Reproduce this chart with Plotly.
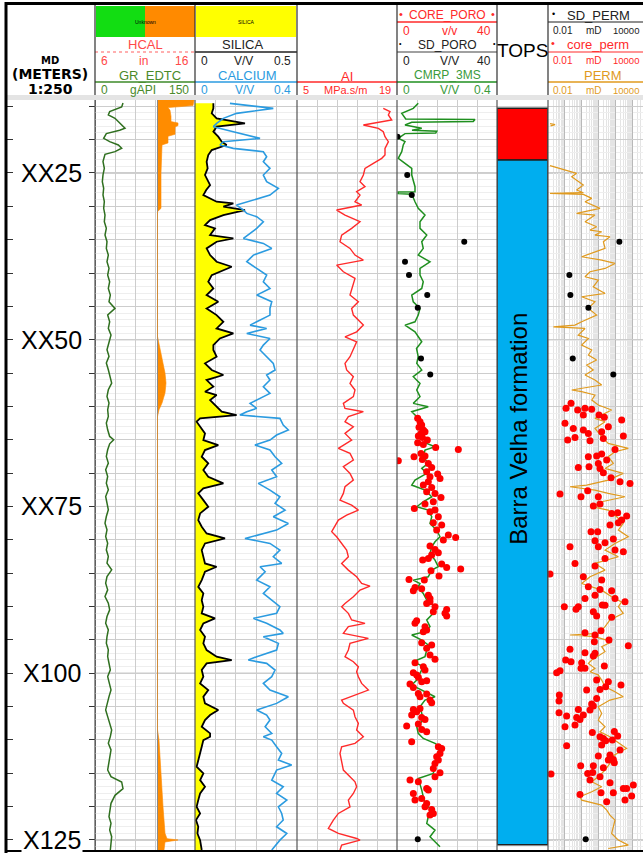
import plotly.graph_objects as go

W, H = 643, 855

# ------------------------------------------------------------------ data
# (depth m, value) pairs read from the log
GR = [(14.5,42),(15.1,40),(15.8,22),(16.3,20),(16.8,30),(17.8,40),(18.3,45),(18.6,37),(19.1,17),(19.8,13),
      (20.3,22),(20.8,35),(21.3,40),(21.8,30),(22.2,15),(23.3,12),(24.3,14),(25.3,12),(26.3,11),(27.3,13),
      (28.3,12),(29.3,14),(30.3,13),(31.3,15),(32.3,14),(33.3,17),(34.3,15),(35.3,18),(36.3,17),(37.3,20),
      (38.3,18),(39.3,21),(40.3,19),(41.3,22),(42.3,20),(43.3,23),(44.3,21),(45.3,30),(46.3,19),(47.3,22),
      (48.3,20),(49.3,24),(50.3,21),(51.5,18),(52.5,21),(53.5,17),(54.5,20),(55.5,22),(56.5,25),(57.5,20),
      (58.5,18),(59.5,21),(60.5,19),(61.5,20),(62.5,17),(63.5,19),(64.5,22),(65.0,28),(65.6,22),(66.5,19),
      (67.5,17),(68.5,20),(69.5,16),(70.5,19),(71.5,17),(72.5,20),(73.5,16),(74.5,18),(75.5,20),(76.5,17),
      (77.5,15),(78.5,18),(79.5,16),(80.5,19),(81.5,17),(82.5,20),(83.5,18),(84.5,25),(85.5,18),(86.5,16),
      (87.5,19),(88.5,15),(89.5,20),(90.5,22),(91.5,18),(92.5,16),(93.5,20),(94.5,18),(95.5,17),(96.5,20),
      (97.5,19),(98.5,21),(99.5,23),(100.5,19),(101.5,22),(102.5,24),(103.5,21),(104.5,18),(105.5,16),
      (106.5,19),(107.5,22),(108.5,25),(109.5,23),(110.5,20),(111.5,24),(112.5,22),(113.5,20),(114.5,19),
      (115.5,24),(116.3,40),(117.3,42),(118.3,30),(119.5,24),(120.5,22),(121.5,21),(122.5,24),(123.5,22),
      (124.5,25),(125.5,24),(126.5,23)]

HCAL = [(14.06,15.9),(14.9,15.8),(15.2,13.3),(15.6,13.5),(16.5,13.6),(17.3,13.6),(17.5,14.3),(17.9,14.3),
        (18.1,14.0),(19.2,14.0),(19.5,13.3),(20.5,13.3),(20.8,12.7),(25.0,12.6),(30.3,12.6),(30.8,12.25),
        (49.5,12.25),(51.5,12.5),(53.5,12.8),(55.0,13.0),(56.5,13.1),(58.0,13.0),(59.5,12.7),(60.5,12.4),
        (61.5,12.25),(108.5,12.25),(110.0,12.4),(113.0,12.5),(116.0,12.6),(118.0,12.7),(120.0,12.8),
        (122.0,12.9),(124.0,13.0),(124.8,13.2),(125.0,14.3),(125.3,13.0),(126.5,12.9)]
BIT_SIZE = 12.25

SILICA = [(14.56,0.090),(15.31,0.090),(16.06,0.082),(16.81,0.106),(17.56,0.245),(18.06,0.106),(18.81,0.090),
          (19.56,0.114),(20.31,0.131),(20.81,0.155),(21.56,0.082),(22.31,0.065),(23.31,0.057),(24.31,0.062),
          (25.31,0.049),(26.06,0.060),(26.81,0.074),(27.56,0.055),(28.31,0.041),(29.31,0.106),(29.56,0.188),
          (30.06,0.139),(30.56,0.245),(31.31,0.139),(32.06,0.074),(32.81,0.049),(33.31,0.098),(34.31,0.074),
          (34.81,0.188),(35.31,0.106),(36.31,0.057),(37.31,0.074),(38.31,0.106),(39.06,0.180),(40.31,0.082),
          (41.31,0.065),(42.31,0.090),(43.31,0.057),(44.31,0.114),(45.31,0.057),(46.31,0.106),(47.31,0.139),
          (48.31,0.106),(49.06,0.188),(49.81,0.122),(50.81,0.090),(51.54,0.090),(52.54,0.106),(53.54,0.049),
          (54.54,0.082),(55.29,0.139),(56.04,0.057),(57.04,0.090),(57.79,0.049),(58.29,0.106),(59.04,0.074),
          (59.79,0.098),(60.79,0.131),(61.29,0.204),(61.79,0.025),(62.29,0.008),(63.04,0.025),(64.04,0.049),
          (65.04,0.041),(65.79,0.114),(66.54,0.049),(67.54,0.033),(68.54,0.065),(69.54,0.041),(70.54,0.065),
          (71.54,0.139),(72.29,0.041),(73.04,0.016),(74.04,0.041),(75.04,0.065),(76.04,0.025),(77.04,0.016),
          (78.04,0.033),(79.04,0.057),(79.79,0.147),(80.54,0.049),(81.54,0.033),(82.54,0.041),(83.54,0.049),
          (84.04,0.106),(84.79,0.049),(86.04,0.033),(87.04,0.016),(88.04,0.041),(89.04,0.033),(90.02,0.041),
          (91.02,0.033),(91.77,0.098),(92.52,0.041),(93.52,0.025),(94.52,0.049),(95.52,0.041),(96.52,0.057),
          (97.52,0.106),(98.02,0.180),(98.52,0.057),(99.52,0.033),(100.52,0.041),(101.52,0.025),(102.52,0.065),
          (103.52,0.041),(104.52,0.049),(105.52,0.114),(106.27,0.074),(107.02,0.049),(108.02,0.033),
          (109.02,0.074),(109.52,0.074),(110.02,0.041),(111.02,0.033),(112.02,0.025),(113.02,0.016),
          (114.02,0.008),(115.02,0.041),(116.02,0.025),(117.02,0.049),(118.02,0.025),(119.02,0.016),
          (120.02,0.008),(121.02,0.025),(122.02,0.005),(123.02,0.016),(124.02,0.012),(125.02,0.025),(126.5,0.033)]

CALCIUM = [(14.56,0.137),(15.31,0.307),(16.06,0.163),(16.81,0.111),(17.56,0.085),(18.06,0.072),(18.81,0.150),
           (19.81,0.255),(20.31,0.111),(20.81,0.098),(21.31,0.150),(21.81,0.268),(22.56,0.281),(23.31,0.268),
           (24.31,0.294),(25.31,0.268),(26.31,0.281),(27.31,0.327),(28.31,0.294),(29.31,0.203),(29.81,0.163),
           (30.56,0.190),(31.06,0.203),(31.56,0.242),(32.31,0.268),(33.31,0.242),(34.81,0.190),(35.56,0.268),
           (36.31,0.301),(37.31,0.229),(38.31,0.203),(39.31,0.242),(40.31,0.281),(41.31,0.268),(42.31,0.294),
           (43.31,0.242),(44.31,0.301),(45.31,0.294),(46.31,0.294),(47.31,0.242),(47.81,0.216),(48.31,0.281),
           (49.06,0.203),(49.81,0.294),(50.81,0.268),(51.54,0.255),(52.54,0.281),(53.54,0.307),(54.54,0.314),
           (55.29,0.281),(56.04,0.294),(57.04,0.268),(58.04,0.294),(59.04,0.242),(59.54,0.216),(60.29,0.242),
           (60.79,0.203),(61.29,0.176),(61.79,0.333),(62.79,0.346),(63.54,0.366),(64.29,0.320),(65.04,0.294),
           (65.79,0.235),(66.54,0.294),(67.54,0.314),(68.54,0.340),(69.54,0.301),(70.54,0.320),(71.54,0.248),
           (72.54,0.294),(73.54,0.333),(74.54,0.314),(75.54,0.353),(76.54,0.307),(77.54,0.366),(78.54,0.320),
           (79.79,0.196),(80.54,0.294),(81.54,0.333),(82.54,0.307),(83.54,0.340),(84.04,0.255),(84.79,0.275),
           (86.04,0.242),(87.04,0.294),(88.04,0.268),(89.04,0.301),(90.02,0.333),(91.02,0.320),(91.77,0.229),
           (92.52,0.281),(93.52,0.333),(94.02,0.346),(94.52,0.268),(95.52,0.327),(96.52,0.320),(97.52,0.242),
           (98.02,0.209),(98.52,0.281),(99.52,0.314),(100.52,0.301),(101.52,0.268),(102.52,0.294),
           (103.52,0.366),(104.52,0.320),(105.52,0.242),(106.27,0.281),(107.02,0.294),(108.02,0.275),
           (109.02,0.301),(109.52,0.268),(110.02,0.301),(111.02,0.320),(112.02,0.340),(113.02,0.327),
           (113.77,0.379),(114.52,0.320),(115.02,0.314),(116.02,0.301),(117.02,0.346),(118.02,0.320),
           (119.02,0.360),(120.02,0.327),(121.02,0.340),(122.02,0.346),(123.02,0.320),(124.02,0.360),
           (125.02,0.333),(126.5,0.301)]

AI = [(15.31,17.08),(15.81,18.02),(16.31,17.79),(17.06,18.26),(17.81,14.29),(18.31,16.39),(18.81,17.08),
      (19.56,17.32),(20.31,17.79),(21.31,17.32),(22.31,17.32),(22.81,16.86),(23.56,15.69),(24.31,14.52),
      (25.31,14.29),(26.31,13.82),(27.06,14.52),(27.81,13.35),(28.31,13.82),(29.31,13.12),(29.81,14.05),
      (30.56,10.55),(31.31,11.72),(32.31,13.82),(33.31,12.65),(34.31,11.25),(35.31,11.02),(36.31,12.42),
      (37.31,13.12),(38.06,14.29),(38.81,10.55),(39.81,11.49),(40.81,13.12),(42.31,12.65),(43.31,12.42),
      (44.31,13.59),(45.31,12.65),(46.31,12.89),(47.81,14.29),(48.81,13.35),(49.56,11.72),(50.31,13.35),
      (51.31,12.89),(52.54,12.42),(53.54,11.72),(54.54,11.95),(55.54,12.89),(56.54,12.42),(57.54,13.12),
      (58.54,12.89),(59.54,11.49),(60.29,11.72),(60.79,14.29),(61.54,12.19),(62.29,11.72),(63.04,12.89),
      (64.04,11.72),(65.04,12.65),(66.29,10.79),(67.04,12.42),(68.04,12.89),(69.04,11.49),(70.04,12.42),
      (71.04,12.89),(72.04,11.72),(73.04,11.49),(74.04,11.02),(74.79,12.65),(75.54,13.59),(76.29,11.95),
      (77.04,10.79),(78.04,10.32),(78.79,9.86),(79.54,10.55),(80.54,11.25),(81.54,11.95),(82.54,12.19),
      (83.54,11.25),(84.54,12.19),(85.54,13.35),(86.54,14.05),(86.94,15.22),(87.54,13.82),(88.54,12.89),
      (89.54,11.72),(90.02,11.25),(91.02,12.19),(92.02,12.65),(92.52,14.52),(93.02,12.19),(94.02,11.49),
      (94.77,14.99),(95.52,12.42),(96.52,12.19),(97.52,11.72),(98.27,12.89),(99.02,13.59),(99.77,13.35),
      (100.52,13.59),(101.52,14.05),(102.52,14.99),(103.27,13.12),(104.02,11.25),(104.52,11.49),
      (105.52,12.89),(106.52,13.12),(107.52,13.59),(108.52,13.35),(109.52,14.29),(110.52,13.12),
      (111.02,11.25),(112.02,11.02),(113.52,11.25),(114.52,11.49),(115.52,12.42),(116.27,13.12),
      (117.02,13.35),(118.02,12.89),(119.02,12.19),(120.02,12.42),(121.02,10.79),(122.02,10.09),
      (123.27,9.39),(124.02,10.79),(124.77,13.35),(125.02,13.82),(125.77,11.25),(126.5,11.02)]

CMRP_3MS = [(14.56,0.085),(15.31,0.065),(16.06,0.019),(16.9,0.035),(17.0,0.312),(17.3,0.305),(17.4,0.059),
            (17.8,0.032),(18.3,0.099),(18.6,0.060),(18.75,0.159),(19.0,0.155),(19.1,0.032),(19.8,0.005),
            (20.3,0.032),(20.8,0.025),(21.8,0.019),(22.8,0.005),(23.56,0.032),(24.31,0.059),(25.31,0.059),
            (26.06,0.065),(27.06,0.072),(27.8,0.072),(27.85,0.005),(28.1,0.005),(28.2,0.059),(29.31,0.072),
            (30.31,0.085),(31.31,0.112),(32.31,0.092),(33.31,0.092),(34.31,0.119),(35.31,0.099),(36.31,0.105),
            (37.31,0.085),(38.31,0.132),(39.31,0.092),(40.31,0.092),(41.31,0.105),(42.31,0.099),(43.31,0.059),
            (44.31,0.065),(45.31,0.092),(46.31,0.085),(47.31,0.072),(47.81,0.032),(48.81,0.072),(50.31,0.099),
            (51.31,0.078),(52.54,0.085),(53.54,0.079),(54.54,0.099),(55.54,0.065),(56.54,0.092),(57.54,0.079),
            (58.54,0.092),(59.54,0.065),(60.04,0.125),(60.79,0.059),(61.54,0.079),(62.54,0.092),(63.54,0.099),
            (64.54,0.105),(65.54,0.119),(66.04,0.152),(66.54,0.112),(67.54,0.105),(68.54,0.125),(69.29,0.099),
            (70.04,0.119),(71.04,0.072),(71.79,0.059),(72.54,0.112),(73.54,0.139),(74.29,0.105),(75.04,0.079),
            (75.54,0.125),(76.54,0.139),(77.54,0.132),(78.54,0.159),(79.54,0.172),(80.29,0.152),(81.04,0.139),
            (82.04,0.132),(83.04,0.152),(84.04,0.165),(84.54,0.139),(85.54,0.125),(86.04,0.065),(86.54,0.092),
            (87.04,0.085),(88.04,0.105),(89.04,0.119),(90.02,0.152),(91.02,0.145),(92.02,0.119),(93.02,0.132),
            (93.77,0.112),(94.27,0.059),(95.02,0.099),(95.77,0.125),(96.52,0.119),(97.52,0.112),(98.27,0.065),
            (99.02,0.105),(100.02,0.092),(101.02,0.079),(101.77,0.059),(102.52,0.099),(103.52,0.152),
            (104.02,0.112),(105.02,0.092),(106.02,0.099),(107.02,0.105),(108.02,0.079),(109.02,0.085),
            (109.77,0.105),(110.52,0.152),(111.02,0.172),(112.02,0.165),(113.02,0.159),(114.02,0.152),
            (115.02,0.145),(115.77,0.085),(116.52,0.092),(117.52,0.099),(118.52,0.105),(119.52,0.112),
            (120.52,0.139),(121.52,0.125),(122.52,0.119),(123.52,0.152),(124.52,0.132),(125.27,0.152),
            (126.02,0.172)]

SD_PORO = [(19.56,0.2),(25.3,4.1),(28.3,5.9),(35.3,26.9),(38.3,3.2),(40.3,4.8),(43.3,12.1),(45.2,8.3),
           (52.8,9.6),(55.2,13.3),(124.9,8.3)]

CORE_PORO = [(61.79,8.27),(62.29,9.2),(62.79,9.87),(63.14,8.8),(63.54,10.53),(64.04,9.6),(64.44,8.53),
             (63.79,11.2),(64.64,10.13),(65.04,12.13),(65.44,8.27),(65.69,10.53),(66.14,15.47),(66.44,24.53),
             (68.14,0.53),(67.54,6.8),(67.04,9.6),(67.44,11.2),(67.94,10.13),(68.54,12.53),(69.14,13.87),
             (69.79,11.87),(70.14,16.27),(70.79,17.2),(70.54,13.2),(71.29,12.53),(71.79,10.53),(72.14,13.87),
             (72.79,11.87),(73.04,15.2),(73.64,17.6),(74.29,14.53),(75.29,6.93),(74.64,11.2),(75.79,13.2),
             (75.54,15.2),(76.54,16.53),(77.44,14.53),(77.79,17.87),(78.54,15.87),(79.29,20.53),(79.64,23.47),
             (80.04,18.53),(80.94,13.2),(81.44,15.2),(81.94,16.53),(82.29,13.87),(83.04,10.27),(82.79,12.53),
             (83.64,17.87),(84.14,19.87),(84.39,25.47),(84.64,13.6),(85.44,16.8),(85.94,4.8),(86.04,10.93),
             (87.14,7.2),(87.34,9.87),(87.64,6.53),(88.29,12.53),(88.79,13.2),(89.54,11.87),(90.04,15.2),
             (90.44,19.87),(89.27,13.2),(90.77,14.53),(91.02,19.2),(91.42,19.87),(92.12,7.87),(92.52,7.2),
             (93.02,11.2),(93.52,11.87),(93.77,10.53),(95.42,9.87),(95.77,13.87),(96.27,11.87),(97.27,13.2),
             (97.92,15.2),(98.42,7.2),(99.02,10.53),(99.52,11.2),(99.92,6.53),(100.27,7.87),(100.62,8.53),
             (101.62,5.2),(102.12,6.53),(101.27,9.87),(101.12,11.87),(103.02,8.53),(103.52,9.2),(103.12,11.87),
             (104.02,13.2),(104.42,13.87),(105.42,6.53),(105.77,7.87),(105.27,9.2),(106.27,5.87),(106.62,9.87),
             (106.92,11.2),(107.92,3.87),(107.62,8.53),(108.42,9.87),(108.77,11.87),(110.27,5.87),
             (111.02,16.53),(111.27,17.87),(112.02,17.2),(112.52,15.87),(113.02,16.53),(113.52,15.2),
             (114.27,14.53),(114.92,17.2),(115.52,15.2),(116.02,5.2),(116.27,8.53),(117.52,12.53),(118.02,6.53),
             (117.27,11.87),(119.02,7.2),(118.77,9.87),(119.52,11.87),(120.02,11.2),(120.42,13.87),
             (121.02,14.53),(121.27,13.2)]

# permeabilities, stored as log10(mD)
PERM_LOG10 = [(17.6,-1.88),(17.75,-1.58),(17.95,-1.85),(20.0,None),(23.91,-1.88),(25.06,-0.30),(25.56,-0.59),
              (26.81,0.10),(27.56,-0.30),(27.96,0.10),(28.06,-1.88),(28.21,0.10),(28.81,0.60),(29.31,0.20),
              (30.31,1.09),(31.06,-0.30),(31.31,0.79),(32.31,0.20),(33.06,0.89),(33.56,0.50),(33.81,1.19),
              (34.31,0.79),(34.56,1.68),(35.31,1.29),(36.31,1.39),(36.81,0.79),(37.56,0.0),(38.06,1.19),
              (38.56,1.98),(39.31,1.39),(39.81,0.50),(40.56,0.20),(41.06,0.99),(42.06,0.69),(43.06,1.39),
              (43.56,0.0),(44.31,0.79),(45.31,0.40),(46.31,0.89),(47.31,0.0),(47.81,-0.40),(48.06,-1.68),
              (48.31,0.20),(49.31,-0.20),(49.81,0.40),(50.81,0.0),(51.54,0.60),(52.29,0.40),(53.04,0.89),
              (53.79,0.30),(54.54,0.69),(55.29,0.20),(56.04,0.79),(56.79,1.19),(57.54,-0.59),(57.79,0.0),
              (58.29,0.79),(59.04,0.60),(59.79,0.99),(60.54,1.78),(61.29,1.19),(61.79,0.79),(62.29,1.39),
              (63.29,0.79),(64.54,1.19),(65.54,1.58),(66.29,2.77),(66.79,1.98),(67.54,1.58),(68.54,1.88),
              (69.29,1.39),(70.04,2.47),(71.04,1.58),(71.79,0.30),(72.04,-0.69),(72.54,0.79),(73.04,1.58),
              (73.54,2.57),(74.29,1.19),(75.04,0.60),(75.54,1.58),(76.54,2.08),(77.54,2.47),(78.54,2.18),
              (79.54,2.77),(80.54,1.98),(81.54,1.39),(82.54,2.18),(83.54,0.79),(84.54,1.39),(85.54,0.50),
              (86.54,0.0),(87.54,1.19),(88.54,1.78),(89.3,2.37),(90.02,2.18),(91.02,2.47),(92.02,1.68),
              (93.02,1.39),(94.02,0.99),(94.27,-0.69),(94.52,0.79),(95.27,1.78),(96.02,1.19),(96.77,1.39),
              (97.52,0.89),(98.02,0.60),(98.52,0.40),(99.27,0.79),(99.77,0.50),(100.27,0.99),(101.02,1.19),
              (102.02,1.39),(102.77,1.98),(103.52,2.47),(104.02,1.68),(105.02,0.99),(106.02,1.19),
              (107.02,0.99),(108.02,1.39),(108.77,1.09),(109.52,1.68),(110.52,2.28),(111.27,2.67),
              (111.77,2.28),(112.52,1.78),(113.52,1.68),(114.52,1.39),(115.52,0.99),(116.27,0.60),
              (117.02,1.19),(117.77,0.60),(118.52,-0.10),(119.02,0.0),(119.77,1.19),(120.52,1.49),
              (121.27,1.68),(122.02,1.98),(123.02,1.88),(124.02,1.78),(125.02,2.18),(125.77,2.77),(126.27,1.58)]

SD_PERM_LOG10 = [(35.3,2.24),(40.3,-0.73),(43.3,-0.67),(45.2,0.40),(52.8,-0.53),(55.2,1.88),(124.9,0.24)]

CORE_PERM_LOG10 = [(59.54,-0.633),(60.29,-0.93),(60.54,-0.237),(60.29,0.198),(60.44,0.595),(61.29,0.099),
                   (61.29,1.030),(61.64,1.347),(62.54,-0.99),(63.29,-0.495),(63.54,0.099),(64.04,0.396),
                   (63.79,1.189),(63.04,1.585),(62.04,2.377),(65.04,-0.831),(64.64,-0.396),(65.14,0.496),
                   (64.79,1.288),(64.44,2.476),(66.44,1.981),(67.54,0.396),(67.44,0.892),(67.14,1.189),
                   (68.04,1.486),(68.54,0.991),(69.14,-0.198),(69.04,0.436),(69.29,1.090),(69.94,1.288),
                   (70.69,1.743),(71.29,2.278),(71.54,2.872),(73.14,-1.287),(73.54,-0.039),(72.64,0.357),
                   (73.54,0.991),(74.94,0.694),(74.64,1.090),(76.04,1.783),(75.94,2.140),(76.44,2.674),
                   (77.79,1.684),(77.44,2.179),(77.04,2.377),(78.79,0.555),(78.79,0.951),(80.14,0.793),
                   (80.44,1.387),(79.89,1.882),(81.04,-0.693),(81.04,0.991),(81.54,1.981),(81.79,2.476),
                   (82.79,1.387),(83.54,-0.396),(83.94,0.793),(85.14,-1.881),(85.54,0.099),(86.04,1.189),
                   (87.04,0.396),(87.44,1.090),(87.64,1.783),(88.79,0.198),(88.29,0.793),(88.79,1.981),
                   (90.04,-1.03),(90.04,-0.198),(89.29,2.575),(89.79,1.387),(90.42,-0.336),(89.77,1.228),
                   (90.77,0.694),(91.42,0.892),(91.62,1.783),(93.92,0.198),(94.27,0.793),(93.62,1.149),
                   (95.27,0.753),(95.02,1.624),(95.87,2.773),(96.42,-0.693),(96.92,0.198),(97.02,0.793),
                   (97.42,0.694),(98.02,-0.950),(98.27,-0.633),(98.42,0.0),(99.27,-0.039),(99.27,0.198),
                   (98.92,1.347),(99.92,-1.485),(99.62,-1.287),(101.02,0.892),(101.27,1.585),(102.52,0.297),
                   (102.42,1.090),(102.02,1.427),(101.77,2.337),(103.27,-1.327),(104.17,-1.346),(103.77,0.892),
                   (104.62,0.595),(104.92,0.694),(105.52,0.496),(105.92,-1.346),(105.42,-0.198),(106.42,-0.891),
                   (106.62,-0.297),(106.27,0.099),(106.92,-0.099),(108.02,-0.99),(107.77,-0.396),(108.87,0.634),
                   (109.52,1.090),(109.77,1.288),(108.72,1.941),(109.42,2.140),(110.87,-0.891),(110.77,1.189),
                   (110.12,1.427),(110.02,1.823),(111.52,2.278),(112.42,0.991),(112.27,1.684),(113.02,1.585),
                   (112.92,1.882),(113.42,1.941),(113.87,-0.059),(113.87,0.694),(114.17,1.288),(115.02,0.357),
                   (116.02,0.496),(114.87,0.654),(115.52,1.090),(116.42,1.684),(117.27,2.476),(117.27,2.674),
                   (116.77,3.070),(118.17,-0.099),(117.92,1.149),(117.92,1.882),(119.02,2.575),(118.42,2.971),
                   (119.27,1.486),(115.12,-1.822)]

TOP_NAMES = ["", "Barra Velha formation"]
TOP_TOPS = [15.3, 23.05]
TOP_BASES = [23.05, 125.7]

DEPTH_LABEL_DEPTHS = [25, 50, 75, 100, 125]
DEPTH_LABELS = ["XX25", "XX50", "XX75", "X100", "X125"]

# ------------------------------------------------------------------ helpers
def px(x):
    return x / W

def py(y):
    return 1 - y / H

def col(pairs, i):
    return [p[i] for p in pairs]

def tenpow(vals):
    return [None if v is None else 10 ** v for v in vals]

D_TOP, D_BOT = 14.06, 126.5      # depth at top / bottom of the data area
YDOM = [py(850), py(100)]
FONT = "Liberation Sans"

C_GR = "#2f6f1f"
C_RED = "#ff2a2a"
C_BLUE = "#2b9be0"
C_GREEN = "#1f8f1f"
C_PERM = "#e09a1e"
C_ORANGE = "#ff8c00"

fig = go.Figure()

# GR / HCAL track
gd = col(HCAL, 0)
fig.add_trace(go.Scatter(x=[BIT_SIZE] * len(gd), y=gd, mode="lines", line=dict(color="#8a8a8a", width=1),
                         xaxis="x8", yaxis="y2", hoverinfo="skip"))
fig.add_trace(go.Scatter(x=[max(v, BIT_SIZE) for v in col(HCAL, 1)], y=gd, mode="lines", fill="tonextx",
                         fillcolor=C_ORANGE, line=dict(color=C_ORANGE, width=0.6), xaxis="x8", yaxis="y2"))
fig.add_trace(go.Scatter(x=col(GR, 1), y=col(GR, 0), mode="lines", line=dict(color=C_GR, width=1.5),
                         xaxis="x2", yaxis="y2"))

# Silica / Calcium
fig.add_trace(go.Scatter(x=col(SILICA, 1), y=col(SILICA, 0), mode="lines", fill="tozerox",
                         fillcolor="#ffff00", line=dict(color="black", width=1.8), xaxis="x3", yaxis="y2"))
fig.add_trace(go.Scatter(x=col(CALCIUM, 1), y=col(CALCIUM, 0), mode="lines", line=dict(color=C_BLUE, width=1.6),
                         xaxis="x9", yaxis="y2"))

# AI
fig.add_trace(go.Scatter(x=col(AI, 1), y=col(AI, 0), mode="lines", line=dict(color=C_RED, width=1.4),
                         xaxis="x4", yaxis="y2"))

# CMRP + porosity points
fig.add_trace(go.Scatter(x=col(CMRP_3MS, 1), y=col(CMRP_3MS, 0), mode="lines", line=dict(color=C_GREEN, width=1.5),
                         xaxis="x5", yaxis="y2"))
fig.add_trace(go.Scatter(x=col(CORE_PORO, 1), y=col(CORE_PORO, 0), mode="markers",
                         marker=dict(color="#ff0000", size=7), xaxis="x10", yaxis="y2"))
fig.add_trace(go.Scatter(x=col(SD_PORO, 1), y=col(SD_PORO, 0), mode="markers",
                         marker=dict(color="black", size=6), xaxis="x10", yaxis="y2"))

# Tops
TOP_COLORS = ["#ff0000", "#00aeef"]
for top, base, c in zip(TOP_TOPS, TOP_BASES, TOP_COLORS):
    fig.add_trace(go.Scatter(x=[0, 1, 1, 0, 0], y=[top, top, base, base, top], mode="lines", fill="toself",
                             fillcolor=c, line=dict(color="#202020", width=1.5), xaxis="x6", yaxis="y2"))

# Permeability
fig.add_trace(go.Scatter(x=tenpow(col(PERM_LOG10, 1)), y=col(PERM_LOG10, 0), mode="lines",
                         line=dict(color=C_PERM, width=1.2), connectgaps=False, xaxis="x7", yaxis="y2"))
fig.add_trace(go.Scatter(x=tenpow(col(CORE_PERM_LOG10, 1)), y=col(CORE_PERM_LOG10, 0), mode="markers",
                         marker=dict(color="#ff0000", size=7), xaxis="x7", yaxis="y2"))
fig.add_trace(go.Scatter(x=tenpow(col(SD_PERM_LOG10, 1)), y=col(SD_PERM_LOG10, 0), mode="markers",
                         marker=dict(color="black", size=6), xaxis="x7", yaxis="y2"))

# ------------------------------------------------------------------ axes
GRID = "#cdcdcd"

def xa(dom, rng, **kw):
    d = dict(domain=[px(dom[0]), px(dom[1])], range=rng, anchor="y2", showticklabels=False, ticks="",
             zeroline=False, showline=False, showgrid=True, gridcolor=GRID, gridwidth=1)
    d.update(kw)
    return d

layout_axes = dict(
    xaxis=dict(domain=[px(7), px(95)], range=[0, 1], anchor="y", showticklabels=False, ticks="",
               showgrid=False, zeroline=False, showline=False),
    yaxis=dict(domain=YDOM, range=[D_BOT, D_TOP], anchor="x", ticks="inside", ticklen=6, tickwidth=1,
               tickcolor="#333333", dtick=5, tick0=0, showticklabels=False, showgrid=False, zeroline=False,
               showline=True, linecolor="#707070", mirror="ticks"),
    yaxis2=dict(domain=YDOM, matches="y", range=[D_BOT, D_TOP], anchor="x2", showticklabels=False, ticks="",
                showgrid=True, gridcolor=GRID, dtick=5, tick0=0, zeroline=False, showline=False,
                minor=dict(dtick=1, tick0=0, showgrid=True, gridcolor="#eeeeee", ticks="")),
    xaxis2=xa((95, 195), [0, 150], dtick=30, tick0=0),
    xaxis3=xa((195, 297), [0, 0.5], dtick=0.1, tick0=0),
    xaxis4=xa((297, 397), [5, 19], dtick=2.8, tick0=5),
    xaxis5=xa((397, 497), [0, 0.4], dtick=0.08, tick0=0),
    xaxis6=xa((497, 548), [0, 1], showgrid=False),
    xaxis7=xa((548, 643), [-2, -2 + 95 / 16.83], type="log", dtick=1, gridcolor="#b9b9b9",
              minor=dict(showgrid=True, gridcolor="#e4e4e4", ticks="")),
    xaxis8=xa((95, 195), [6, 16], overlaying="x2", showgrid=False),
    xaxis9=xa((195, 297), [0, 0.4], overlaying="x3", showgrid=False),
    xaxis10=xa((397, 497), [0, 40], overlaying="x5", showgrid=False),
)

# ------------------------------------------------------------------ shapes
shapes = []

def hline(x0, x1, y, color, width=1, dash="solid"):
    shapes.append(dict(type="line", xref="paper", yref="paper", x0=px(x0), x1=px(x1), y0=py(y), y1=py(y),
                       line=dict(color=color, width=width, dash=dash)))

def vline(x, y0, y1, color, width=1):
    shapes.append(dict(type="line", xref="paper", yref="paper", x0=px(x), x1=px(x), y0=py(y0), y1=py(y1),
                       line=dict(color=color, width=width)))

def rect(x0, y0, x1, y1, fill, line=None):
    shapes.append(dict(type="rect", xref="paper", yref="paper", x0=px(x0), x1=px(x1), y0=py(y1), y1=py(y0),
                       fillcolor=fill, line=dict(width=0 if line is None else 1, color=line or fill),
                       layer="below"))

# 25 m gridlines
for d in DEPTH_LABEL_DEPTHS:
    shapes.append(dict(type="line", xref="paper", yref="y2", x0=px(95), x1=1, y0=d, y1=d,
                       line=dict(color="#9c9c9c", width=1), layer="below"))

# header blocks
rect(96, 6, 145, 37, "#12dd12")
rect(145, 6, 195, 37, "#ff8a00")
rect(196, 6, 296, 37, "#ffff00")
rect(7, 95, 643, 100, "#e4e4e4")

hline(95, 195, 52, "#ff6060", 1.2, "dot")
hline(95, 195, 82, "#3c8a28", 1.5)
hline(195, 297, 52, "#202020", 1.5)
hline(195, 297, 82, C_BLUE, 1.5)
hline(297, 397, 82, C_RED, 1.5)
hline(397, 497, 22, C_RED, 1.5)
hline(397, 497, 52, "#808080", 1.5)
hline(397, 497, 82, C_GREEN, 1.5)
hline(548, 643, 22, "#202020", 1.2)
hline(548, 643, 52, C_RED, 1.2)
hline(548, 643, 82, C_PERM, 1.5)

for x in (95, 195, 297, 397, 497, 548):
    vline(x, 4, 95, "#303030", 1.2)
    vline(x, 100, 851, "#555555", 1.2)

hline(5, 643, 3.5, "black", 3)
hline(5, 643, 851, "black", 2)
vline(6, 2, 853, "black", 3)

# ------------------------------------------------------------------ annotations
ann = []

def txt(x, y, s, color="black", size=12, xanchor="center", bold=False, family=FONT):
    ann.append(dict(x=px(x), y=py(y), xref="paper", yref="paper", text=("<b>%s</b>" % s) if bold else s,
                    showarrow=False, xanchor=xanchor, yanchor="middle",
                    font=dict(color=color, size=size, family=family)))

def scale(x0, x1, y, lo, unit, hi, color, size=12, ux=None):
    txt(x0 + 4, y, lo, color, size, "left")
    txt(ux if ux is not None else (x0 + x1) / 2, y, unit, color, size)
    txt(x1 - 4, y, hi, color, size, "right")

# depth header
txt(50, 61, "MD", "black", 10, bold=True, family="DejaVu Sans")
txt(50, 74, "(METERS)", "black", 14, bold=True, family="DejaVu Sans")
txt(50, 89, "1:250", "black", 14, bold=True, family="DejaVu Sans")

# GR / HCAL
txt(145, 22, "Unknown", "black", 5)
txt(145, 45, "HCAL", "#ff4848", 13)
scale(95, 195, 61, "6", "in", "16", "#ff4848", 12, ux=143)
txt(150, 75, "GR_EDTC", "#4a8a2a", 13)
scale(95, 195, 90, "0", "gAPI", "150", "#4a8a2a", 12, ux=143)

# Silica / Calcium
txt(246, 22, "SILICA", "black", 5)
txt(243, 45, "SILICA", "#222222", 13)
scale(195, 297, 61, "0", "V/V", "0.5", "#222222", 12, ux=243)
txt(248, 75, "CALCIUM", C_BLUE, 13)
scale(195, 297, 90, "0", "V/V", "0.4", C_BLUE, 12, ux=245)

# AI
txt(347, 76, "AI", C_RED, 13)
scale(297, 397, 90, "5", "MPa.s/m", "19", C_RED, 11, ux=346)

# CMRP
txt(401, 14, "•", C_RED, 11)
txt(447, 15, "CORE_PORO", C_RED, 12)
txt(493, 14, "•", C_RED, 11)
scale(397, 497, 31, "0", "v/v", "40", C_RED, 12, ux=449)
txt(400, 44, "•", "black", 7)
txt(447, 45, "SD_PORO", "#222222", 12)
txt(494, 44, "•", "black", 7)
scale(397, 497, 61, "0", "V/V", "40", "#222222", 12, ux=449)
txt(447, 75, "CMRP_3MS", "#3a9a3a", 12)
scale(397, 497, 90, "0", "V/V", "0.4", "#3a9a3a", 12, ux=449)

# TOPS
txt(522, 51, "TOPS", "black", 19)

# PERM
txt(553, 14, "•", "black", 9)
txt(598, 15, "SD_PERM", "#222222", 13)
txt(551, 30, "0.01", "#222222", 10, "left")
txt(594, 30, "mD", "#222222", 10)
txt(641, 30, "10000", "#222222", 9.5, "right")
txt(553, 43, "•", C_RED, 11)
txt(598, 45, "core_perm", C_RED, 13)
txt(551, 61, "0.01", C_RED, 10, "left")
txt(594, 61, "mD", C_RED, 10)
txt(641, 61, "10000", C_RED, 9.5, "right")
txt(603, 75, "PERM", C_PERM, 13)
txt(551, 90, "0.01", C_PERM, 10, "left")
txt(594, 90, "mD", C_PERM, 10)
txt(641, 90, "10000", C_PERM, 9.5, "right")

# depth labels
for d, lab in zip(DEPTH_LABEL_DEPTHS, DEPTH_LABELS):
    ann.append(dict(x=0.51, y=d, xref="x", yref="y", text=lab, showarrow=False, xanchor="center",
                    yanchor="middle", bgcolor="white", borderpad=1,
                    font=dict(color="black", size=25, family=FONT)))

# formation name
for top, base, name in zip(TOP_TOPS, TOP_BASES, TOP_NAMES):
    if name:
        ann.append(dict(x=0.42, y=63.3, xref="x6", yref="y2", text=name, showarrow=False, textangle=-90,
                        xanchor="center", yanchor="middle", font=dict(color="black", size=24, family=FONT)))

fig.update_layout(
    width=W, height=H, margin=dict(l=0, r=0, t=0, b=0),
    paper_bgcolor="white", plot_bgcolor="rgba(0,0,0,0)",
    showlegend=False, shapes=shapes, annotations=ann,
    **layout_axes,
)

fig.write_html("out.html", config={"displayModeBar": False},
               post_script="document.body.style.margin='0';document.body.style.overflow='hidden';")
